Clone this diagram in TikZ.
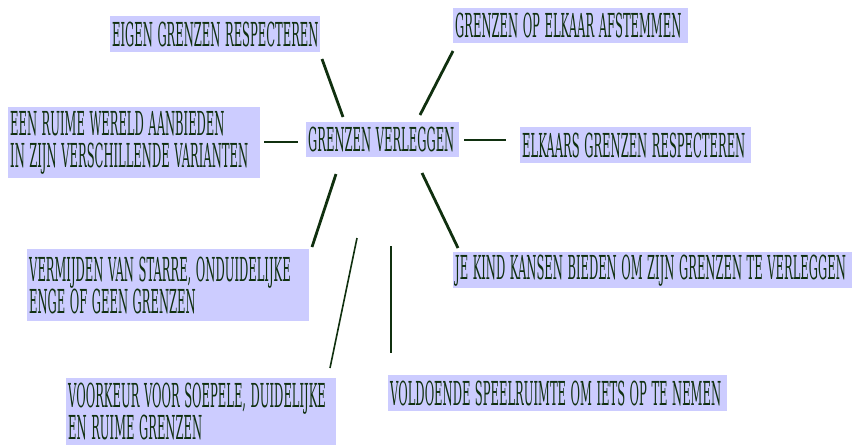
\documentclass[tikz,border=0pt]{standalone}
\usepackage{graphicx}
\usepackage{fontspec}
\newfontfamily\slab{DejaVu Serif}
% condensed caption line: the whole line (spaces included) is squeezed horizontally
\newcommand\capline[1]{\scalebox{0.35}[1]{\spaceskip=13pt\relax\xspaceskip=13pt\relax #1}}
\definecolor{boxfill}{HTML}{CCCCFF}
\definecolor{ink}{HTML}{10300F}
\begin{document}
\begin{tikzpicture}[x=1pt,y=-1pt,
  idea/.style={fill=boxfill, anchor=north west, inner sep=0pt, inner xsep=2pt,
    align=left, text=ink, font=\slab\fontsize{33}{32}\selectfont},
  spoke/.style={draw=ink, line width=2.8pt},
  thinspoke/.style={draw=ink, line width=1.6pt}]
\useasboundingbox (0,0) rectangle (853,445);

% central topic
\node[idea, minimum width=153pt, minimum height=35pt, text width=149pt] (hub) at (306,122) {\capline{GRENZEN VERLEGGEN}};

% surrounding ideas
\node[idea, minimum width=210pt, minimum height=36pt, text width=206pt] (eigen) at (110,16) {\capline{EIGEN GRENZEN RESPECTEREN}};
\node[idea, minimum width=235pt, minimum height=35pt, text width=231pt] (afst) at (453,8) {\capline{GRENZEN OP ELKAAR AFSTEMMEN}};
\node[idea, minimum width=252pt, minimum height=71pt, text width=248pt] (ruime) at (8,107) {\capline{EEN RUIME WERELD AANBIEDEN}\\\capline{IN ZIJN VERSCHILLENDE VARIANTEN}};
\node[idea, minimum width=231pt, minimum height=36pt, text width=227pt] (elk) at (520,127) {\capline{ELKAARS GRENZEN RESPECTEREN}};
\node[idea, minimum width=282pt, minimum height=72pt, text width=278pt] (verm) at (27,249) {\capline{VERMIJDEN VAN STARRE, ONDUIDELIJKE}\\\capline{ENGE OF GEEN GRENZEN}};
\node[idea, minimum width=399pt, minimum height=36pt, text width=395pt] (kind) at (453,252) {\capline{JE KIND KANSEN BIEDEN OM ZIJN GRENZEN TE VERLEGGEN}};
\node[idea, minimum width=270pt, minimum height=67pt, text width=266pt] (voorkeur) at (66,378) {\capline{VOORKEUR VOOR SOEPELE, DUIDELIJKE}\\\capline{EN RUIME GRENZEN}};
\node[idea, minimum width=339pt, minimum height=36pt, text width=335pt] (ruimte) at (388,375) {\capline{VOLDOENDE SPEELRUIMTE OM IETS OP TE NEMEN}};

% spoke end points
\coordinate (eigenA) at (322,59);   \coordinate (eigenB) at (343,117);
\coordinate (afstA) at (453,51);    \coordinate (afstB) at (420,115);
\coordinate (ruimeA) at (264,142);  \coordinate (ruimeB) at (298,142);
\coordinate (elkA) at (464,140);    \coordinate (elkB) at (506,140);
\coordinate (kindA) at (422,173);   \coordinate (kindB) at (458,248);
\coordinate (vermA) at (336,174);   \coordinate (vermB) at (312,247);
\coordinate (voorA) at (357,238);   \coordinate (voorB) at (330,368);
\coordinate (ruimteA) at (391,246); \coordinate (ruimteB) at (391,353);

% spokes
\draw[spoke] (eigenA) -- (eigenB);
\draw[spoke] (afstA) -- (afstB);
\draw[spoke] (ruimeA) -- (ruimeB);
\draw[spoke] (elkA) -- (elkB);
\draw[spoke] (kindA) -- (kindB);
\draw[spoke] (vermA) -- (vermB);
\draw[thinspoke] (voorA) -- (voorB);
\draw[thinspoke] (ruimteA) -- (ruimteB);
\end{tikzpicture}
\end{document}
